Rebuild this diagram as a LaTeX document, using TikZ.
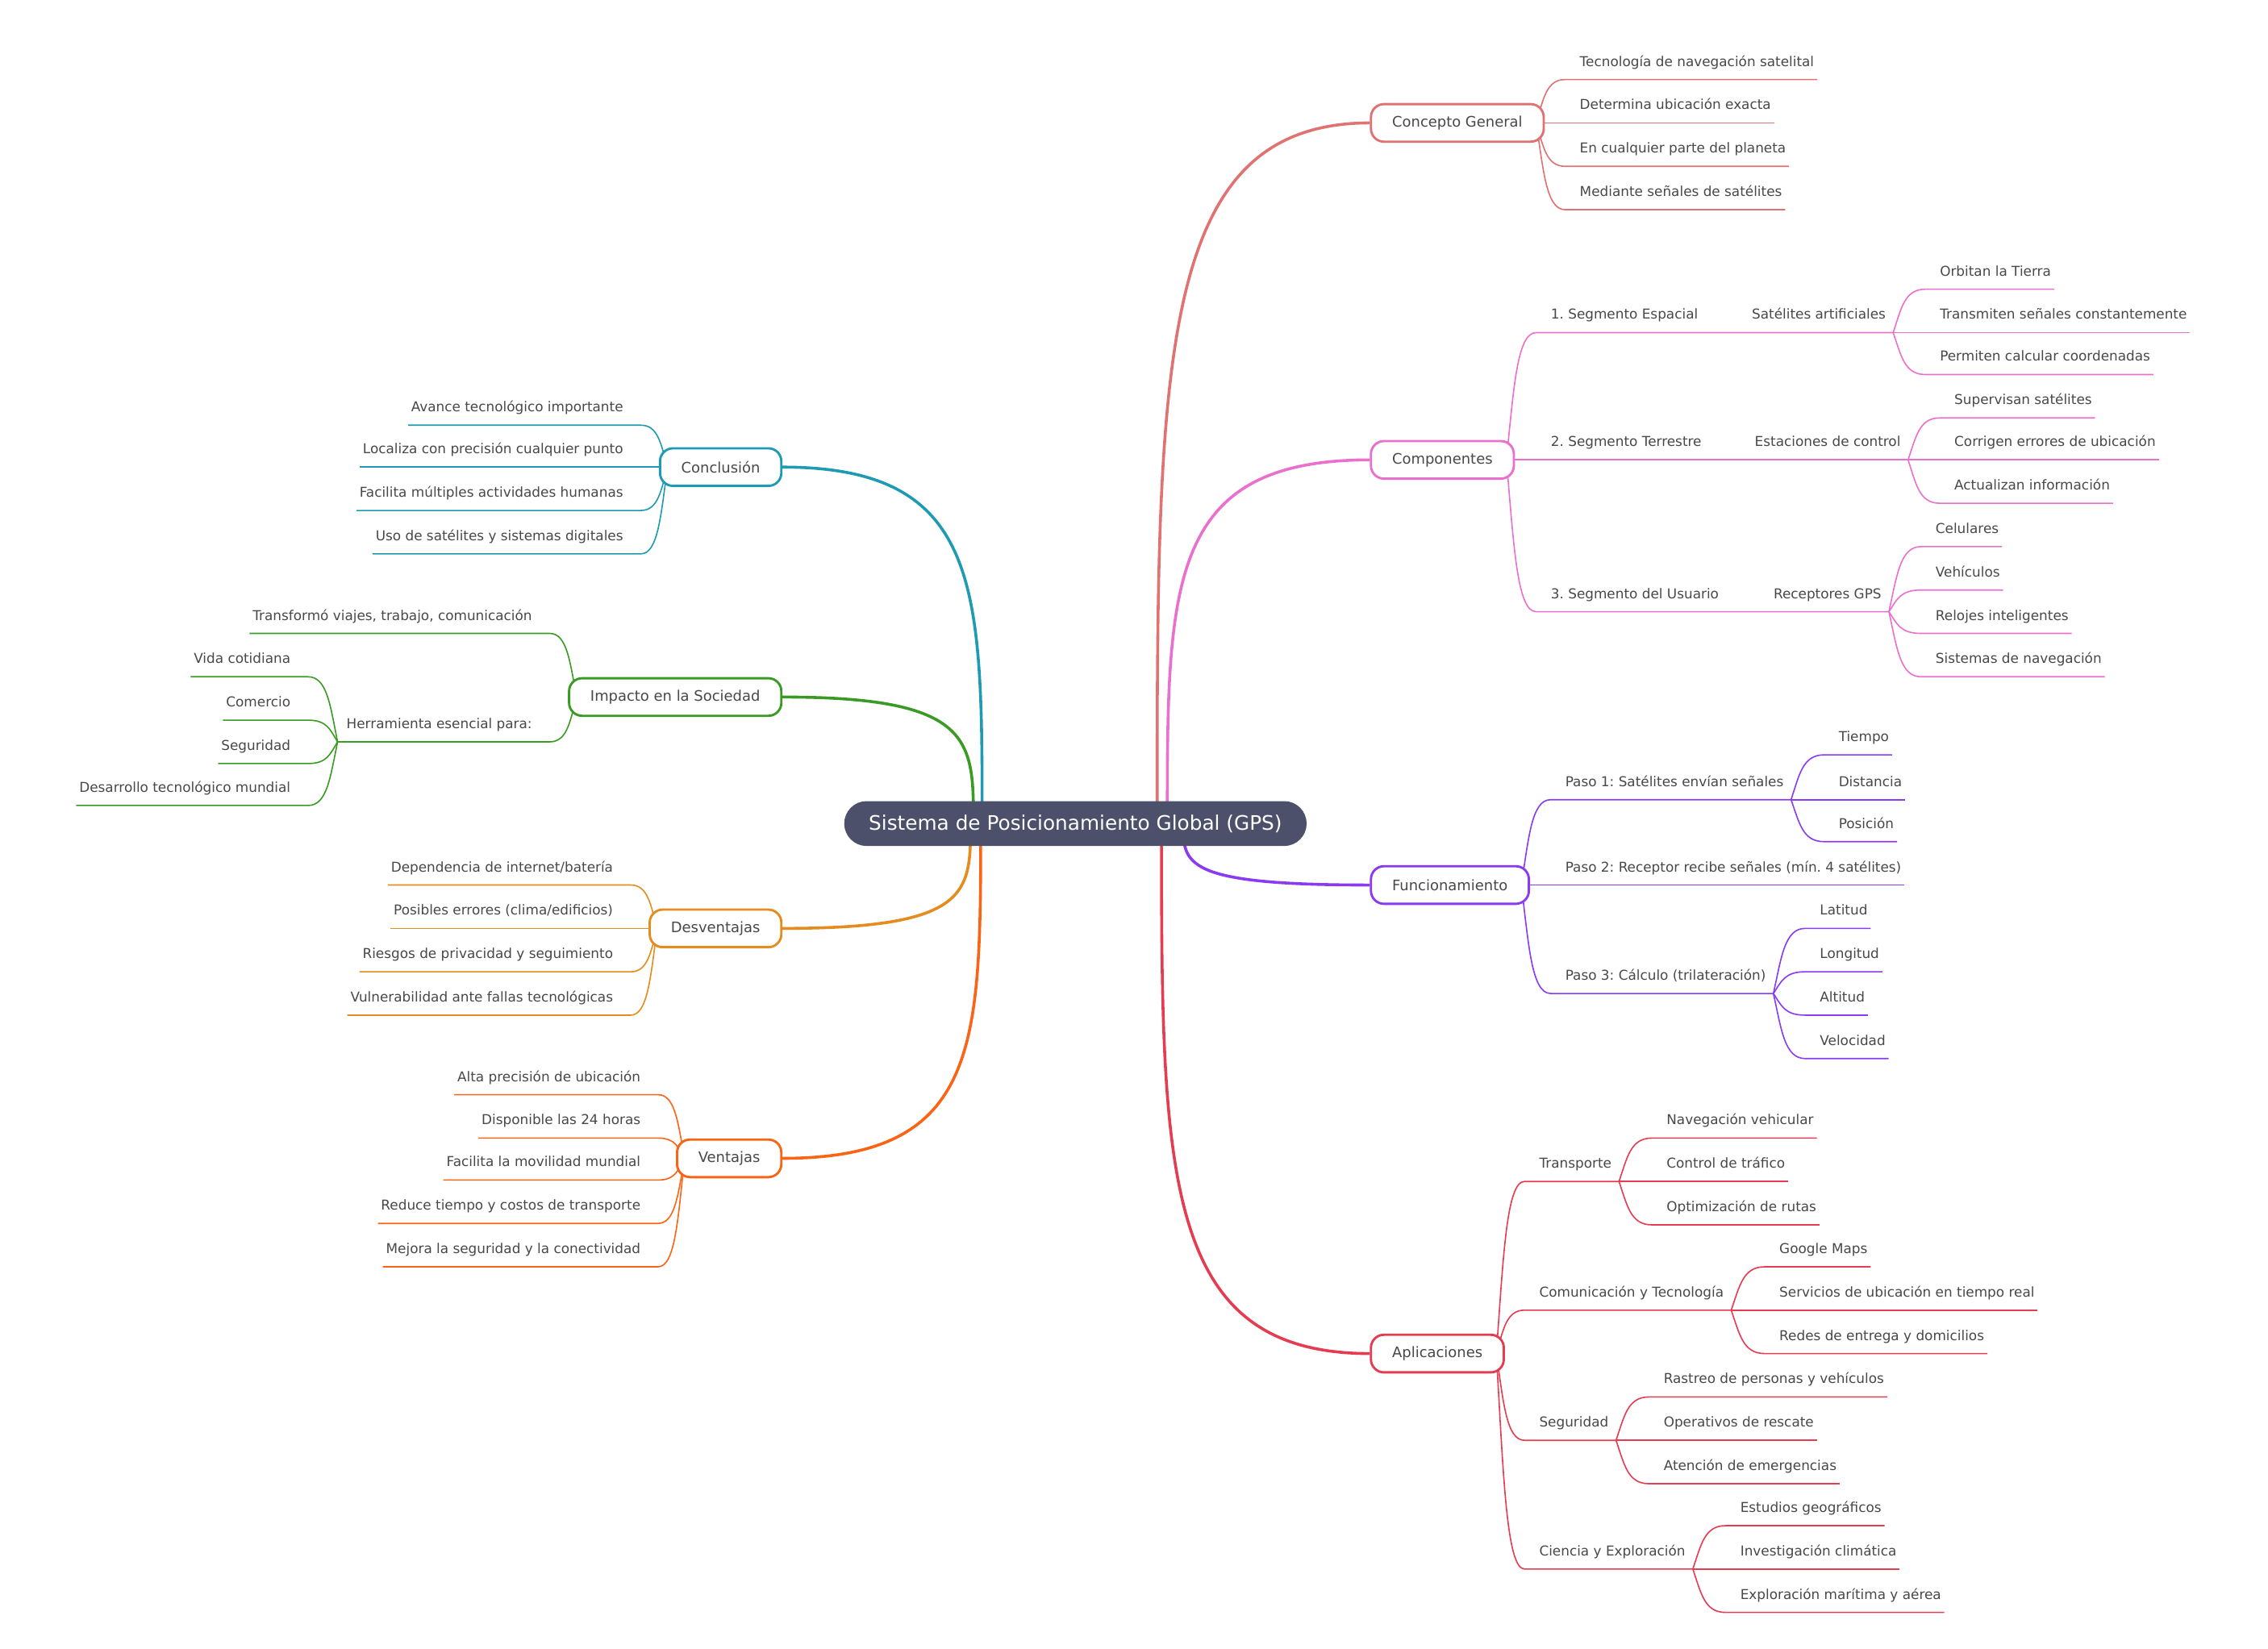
\documentclass[tikz,border=0pt]{standalone}
\usepackage{fontspec}
\setmainfont{DejaVu Sans}
\usetikzlibrary{calc,backgrounds}
\frenchspacing

\definecolor{rootbg}{RGB}{76,80,106}
\definecolor{txt}{RGB}{72,72,72}
\definecolor{cgcol}{RGB}{224,114,114}
\definecolor{cpcol}{RGB}{234,112,206}
\definecolor{fncol}{RGB}{138,58,240}
\definecolor{apcol}{RGB}{230,60,82}
\definecolor{cccol}{RGB}{30,155,178}
\definecolor{imcol}{RGB}{58,155,36}
\definecolor{dvcol}{RGB}{228,140,30}
\definecolor{vtcol}{RGB}{250,100,20}

\begin{document}
\begin{tikzpicture}[x=1pt, y=-1pt,
    central/.style={fill=rootbg, text=white, rounded corners=15.5pt, minimum height=31pt, inner xsep=17pt, font=\fontsize{13.8}{16}\selectfont},
    topic/.style={draw=#1, line width=1.6pt, fill=white, rounded corners=9pt, minimum height=26pt, inner xsep=14.7pt, text=txt, font=\fontsize{10}{12}\selectfont},
    leaf/.style={text=txt, inner xsep=0pt, inner ysep=0pt, text depth=9pt, font=\fontsize{9.4}{11}\selectfont},
    rleaf/.style={leaf, anchor=south west},
    lleaf/.style={leaf, anchor=south east},
    trunk/.style={draw=#1, line width=2pt},
    twig/.style={draw=#1, line width=0.9pt},
    branch/.style={to path={.. controls ($(\tikztostart)!0.66!(\tikztostart |- \tikztotarget)$) and (\tikztostart |- \tikztotarget) .. (\tikztotarget) \tikztonodes}},
    sway/.style={to path={let \p1=(\tikztostart), \p2=(\tikztotarget) in .. controls ({\x1+0.25*(\x2-\x1)},{\y1+0.55*(\y2-\y1)}) and ({\x1+0.35*(\x2-\x1)},\y2) .. (\tikztotarget) \tikztonodes}}
]
    \useasboundingbox (0,0) rectangle (1568,1140);

    % Center
    \node[central] (gps) at (743.5,569.5) {Sistema de Posicionamiento Global (GPS)};
    \coordinate (gps-cg) at ([xshift=56.5pt]gps.center);
    \coordinate (gps-cp) at ([xshift=63.5pt]gps.center);
    \coordinate (gps-fn) at ([xshift=74.5pt]gps.center);
    \coordinate (gps-ap) at ([xshift=59.5pt]gps.center);
    \coordinate (gps-cc) at ([xshift=-64.5pt]gps.center);
    \coordinate (gps-im) at ([xshift=-70.5pt]gps.center);
    \coordinate (gps-dv) at ([xshift=-72.5pt]gps.center);
    \coordinate (gps-vt) at ([xshift=-65.5pt]gps.center);

    % Main topics
    \node[topic=cgcol, anchor=west] (cg) at (947,85) {Concepto General};
    \node[topic=cpcol, anchor=west] (cp) at (947,318) {Componentes};
    \node[topic=fncol, anchor=west] (fn) at (947,612) {Funcionamiento};
    \node[topic=apcol, anchor=west] (ap) at (947,936) {Aplicaciones};
    \node[topic=cccol, anchor=east] (cc) at (541,323) {Conclusión};
    \node[topic=imcol, anchor=east] (im) at (541,482) {Impacto en la Sociedad};
    \node[topic=dvcol, anchor=east] (dv) at (541,642) {Desventajas};
    \node[topic=vtcol, anchor=east] (vt) at (541,801) {Ventajas};
    \coordinate (cg-o) at ([xshift=-6pt]cg.east);
    \coordinate (cp-o) at ([xshift=-6pt]cp.east);
    \coordinate (fn-o) at ([xshift=-6pt]fn.east);
    \coordinate (ap-o) at ([xshift=-6pt]ap.east);
    \coordinate (cc-o) at ([xshift=6pt]cc.west);
    \coordinate (im-o) at ([xshift=6pt]im.west);
    \coordinate (dv-o) at ([xshift=6pt]dv.west);
    \coordinate (vt-o) at ([xshift=6pt]vt.west);

    % Concepto General
    \node[rleaf] (cg1) at (1092,55) {Tecnología de navegación satelital};
    \node[rleaf] (cg2) at (1092,85) {Determina ubicación exacta};
    \node[rleaf] (cg3) at (1092,115) {En cualquier parte del planeta};
    \node[rleaf] (cg4) at (1092,145) {Mediante señales de satélites};

    % Componentes
    \node[rleaf] (cp1) at (1072,230) {1. Segmento Espacial};
    \node[rleaf] (cp1s) at (1211,230) {Satélites artificiales};
    \node[rleaf] (cp1a) at (1341,200) {Orbitan la Tierra};
    \node[rleaf] (cp1b) at (1341,230) {Transmiten señales constantemente};
    \node[rleaf] (cp1c) at (1341,259) {Permiten calcular coordenadas};
    \node[rleaf] (cp2) at (1072,318) {2. Segmento Terrestre};
    \node[rleaf] (cp2s) at (1213,318) {Estaciones de control};
    \node[rleaf] (cp2a) at (1351,289) {Supervisan satélites};
    \node[rleaf] (cp2b) at (1351,318) {Corrigen errores de ubicación};
    \node[rleaf] (cp2c) at (1351,348) {Actualizan información};
    \node[rleaf] (cp3) at (1072,423) {3. Segmento del Usuario};
    \node[rleaf] (cp3s) at (1226,423) {Receptores GPS};
    \node[rleaf] (cp3a) at (1338,378) {Celulares};
    \node[rleaf] (cp3b) at (1338,408) {Vehículos};
    \node[rleaf] (cp3c) at (1338,438) {Relojes inteligentes};
    \node[rleaf] (cp3d) at (1338,468) {Sistemas de navegación};
    \coordinate (cp1j) at ([xshift=5pt]cp1s.south east);
    \coordinate (cp2j) at ([xshift=5pt]cp2s.south east);
    \coordinate (cp3j) at ([xshift=5pt]cp3s.south east);

    % Funcionamiento
    \node[rleaf] (fn1) at (1082,553) {Paso 1: Satélites envían señales};
    \node[rleaf] (fn1a) at (1271,522) {Tiempo};
    \node[rleaf] (fn1b) at (1271,553) {Distancia};
    \node[rleaf] (fn1c) at (1271,582) {Posición};
    \node[rleaf] (fn2) at (1082,612) {Paso 2: Receptor recibe señales (mín. 4 satélites)};
    \node[rleaf] (fn3) at (1082,687) {Paso 3: Cálculo (trilateración)};
    \node[rleaf] (fn3a) at (1258,642) {Latitud};
    \node[rleaf] (fn3b) at (1258,672) {Longitud};
    \node[rleaf] (fn3c) at (1258,702) {Altitud};
    \node[rleaf] (fn3d) at (1258,732) {Velocidad};
    \coordinate (fn1j) at ([xshift=5pt]fn1.south east);
    \coordinate (fn3j) at ([xshift=5pt]fn3.south east);

    % Aplicaciones
    \node[rleaf] (ap1) at (1064,817) {Transporte};
    \node[rleaf] (ap1a) at (1152,787) {Navegación vehicular};
    \node[rleaf] (ap1b) at (1152,817) {Control de tráfico};
    \node[rleaf] (ap1c) at (1152,847) {Optimización de rutas};
    \node[rleaf] (ap2) at (1064,906) {Comunicación y Tecnología};
    \node[rleaf] (ap2a) at (1230,876) {Google Maps};
    \node[rleaf] (ap2b) at (1230,906) {Servicios de ubicación en tiempo real};
    \node[rleaf] (ap2c) at (1230,936) {Redes de entrega y domicilios};
    \node[rleaf] (ap3) at (1064,996) {Seguridad};
    \node[rleaf] (ap3a) at (1150,966) {Rastreo de personas y vehículos};
    \node[rleaf] (ap3b) at (1150,996) {Operativos de rescate};
    \node[rleaf] (ap3c) at (1150,1026) {Atención de emergencias};
    \node[rleaf] (ap4) at (1064,1085) {Ciencia y Exploración};
    \node[rleaf] (ap4a) at (1203,1055) {Estudios geográficos};
    \node[rleaf] (ap4b) at (1203,1085) {Investigación climática};
    \node[rleaf] (ap4c) at (1203,1115) {Exploración marítima y aérea};
    \coordinate (ap1j) at ([xshift=5pt]ap1.south east);
    \coordinate (ap2j) at ([xshift=5pt]ap2.south east);
    \coordinate (ap3j) at ([xshift=5pt]ap3.south east);
    \coordinate (ap4j) at ([xshift=5pt]ap4.south east);

    % Conclusion
    \node[lleaf] (cc1) at (431,294) {Avance tecnológico importante};
    \node[lleaf] (cc2) at (431,323) {Localiza con precisión cualquier punto};
    \node[lleaf] (cc3) at (431,353) {Facilita múltiples actividades humanas};
    \node[lleaf] (cc4) at (431,383) {Uso de satélites y sistemas digitales};

    % Impacto en la Sociedad
    \node[lleaf] (im1) at (368,438) {Transformó viajes, trabajo, comunicación};
    \node[lleaf] (im2) at (368,513) {Herramienta esencial para:};
    \node[lleaf] (im2a) at (201,468) {Vida cotidiana};
    \node[lleaf] (im2b) at (201,498) {Comercio};
    \node[lleaf] (im2c) at (201,528) {Seguridad};
    \node[lleaf] (im2d) at (201,557) {Desarrollo tecnológico mundial};
    \coordinate (im2j) at ([xshift=-6pt]im2.south west);

    % Desventajas
    \node[lleaf] (dv1) at (424,612) {Dependencia de internet/batería};
    \node[lleaf] (dv2) at (424,642) {Posibles errores (clima/edificios)};
    \node[lleaf] (dv3) at (424,672) {Riesgos de privacidad y seguimiento};
    \node[lleaf] (dv4) at (424,702) {Vulnerabilidad ante fallas tecnológicas};

    % Ventajas
    \node[lleaf] (vt1) at (443,757) {Alta precisión de ubicación};
    \node[lleaf] (vt2) at (443,787) {Disponible las 24 horas};
    \node[lleaf] (vt3) at (443,816) {Facilita la movilidad mundial};
    \node[lleaf] (vt4) at (443,846) {Reduce tiempo y costos de transporte};
    \node[lleaf] (vt5) at (443,876) {Mejora la seguridad y la conectividad};

    \begin{scope}[on background layer]
    % Trunks
    \draw[trunk=cgcol] (gps-cg) to[branch] (cg.west);
    \draw[trunk=cpcol] (gps-cp) to[branch] (cp.west);
    \draw[trunk=fncol] (gps-fn) to[branch] (fn.west);
    \draw[trunk=apcol] (gps-ap) to[branch] (ap.west);
    \draw[trunk=cccol] (gps-cc) to[branch] (cc.east);
    \draw[trunk=imcol] (gps-im) to[branch] (im.east);
    \draw[trunk=dvcol] (gps-dv) to[branch] (dv.east);
    \draw[trunk=vtcol] (gps-vt) to[branch] (vt.east);

    % Concepto General
    \draw[twig=cgcol] (cg-o) to[sway] ([xshift=-10pt]cg1.south west) -- ([xshift=2pt]cg1.south east);
    \draw[twig=cgcol] (cg-o) to[sway] ([xshift=-10pt]cg2.south west) -- ([xshift=2pt]cg2.south east);
    \draw[twig=cgcol] (cg-o) to[sway] ([xshift=-10pt]cg3.south west) -- ([xshift=2pt]cg3.south east);
    \draw[twig=cgcol] (cg-o) to[sway] ([xshift=-10pt]cg4.south west) -- ([xshift=2pt]cg4.south east);

    % Componentes
    \draw[twig=cpcol] (cp-o) to[sway] ([xshift=-10pt]cp1.south west) -- (cp1j);
    \draw[twig=cpcol] (cp1j) to[sway] ([xshift=-10pt]cp1a.south west) -- ([xshift=2pt]cp1a.south east);
    \draw[twig=cpcol] (cp1j) to[sway] ([xshift=-10pt]cp1b.south west) -- ([xshift=2pt]cp1b.south east);
    \draw[twig=cpcol] (cp1j) to[sway] ([xshift=-10pt]cp1c.south west) -- ([xshift=2pt]cp1c.south east);
    \draw[twig=cpcol] (cp-o) to[sway] ([xshift=-10pt]cp2.south west) -- (cp2j);
    \draw[twig=cpcol] (cp2j) to[sway] ([xshift=-10pt]cp2a.south west) -- ([xshift=2pt]cp2a.south east);
    \draw[twig=cpcol] (cp2j) to[sway] ([xshift=-10pt]cp2b.south west) -- ([xshift=2pt]cp2b.south east);
    \draw[twig=cpcol] (cp2j) to[sway] ([xshift=-10pt]cp2c.south west) -- ([xshift=2pt]cp2c.south east);
    \draw[twig=cpcol] (cp-o) to[sway] ([xshift=-10pt]cp3.south west) -- (cp3j);
    \draw[twig=cpcol] (cp3j) to[sway] ([xshift=-10pt]cp3a.south west) -- ([xshift=2pt]cp3a.south east);
    \draw[twig=cpcol] (cp3j) to[sway] ([xshift=-10pt]cp3b.south west) -- ([xshift=2pt]cp3b.south east);
    \draw[twig=cpcol] (cp3j) to[sway] ([xshift=-10pt]cp3c.south west) -- ([xshift=2pt]cp3c.south east);
    \draw[twig=cpcol] (cp3j) to[sway] ([xshift=-10pt]cp3d.south west) -- ([xshift=2pt]cp3d.south east);

    % Funcionamiento
    \draw[twig=fncol] (fn-o) to[sway] ([xshift=-10pt]fn1.south west) -- (fn1j);
    \draw[twig=fncol] (fn1j) to[sway] ([xshift=-10pt]fn1a.south west) -- ([xshift=2pt]fn1a.south east);
    \draw[twig=fncol] (fn1j) to[sway] ([xshift=-10pt]fn1b.south west) -- ([xshift=2pt]fn1b.south east);
    \draw[twig=fncol] (fn1j) to[sway] ([xshift=-10pt]fn1c.south west) -- ([xshift=2pt]fn1c.south east);
    \draw[twig=fncol] (fn-o) to[sway] ([xshift=-10pt]fn2.south west) -- ([xshift=2pt]fn2.south east);
    \draw[twig=fncol] (fn-o) to[sway] ([xshift=-10pt]fn3.south west) -- (fn3j);
    \draw[twig=fncol] (fn3j) to[sway] ([xshift=-10pt]fn3a.south west) -- ([xshift=2pt]fn3a.south east);
    \draw[twig=fncol] (fn3j) to[sway] ([xshift=-10pt]fn3b.south west) -- ([xshift=2pt]fn3b.south east);
    \draw[twig=fncol] (fn3j) to[sway] ([xshift=-10pt]fn3c.south west) -- ([xshift=2pt]fn3c.south east);
    \draw[twig=fncol] (fn3j) to[sway] ([xshift=-10pt]fn3d.south west) -- ([xshift=2pt]fn3d.south east);

    % Aplicaciones
    \draw[twig=apcol] (ap-o) to[sway] ([xshift=-10pt]ap1.south west) -- (ap1j);
    \draw[twig=apcol] (ap1j) to[sway] ([xshift=-10pt]ap1a.south west) -- ([xshift=2pt]ap1a.south east);
    \draw[twig=apcol] (ap1j) to[sway] ([xshift=-10pt]ap1b.south west) -- ([xshift=2pt]ap1b.south east);
    \draw[twig=apcol] (ap1j) to[sway] ([xshift=-10pt]ap1c.south west) -- ([xshift=2pt]ap1c.south east);
    \draw[twig=apcol] (ap-o) to[sway] ([xshift=-10pt]ap2.south west) -- (ap2j);
    \draw[twig=apcol] (ap2j) to[sway] ([xshift=-10pt]ap2a.south west) -- ([xshift=2pt]ap2a.south east);
    \draw[twig=apcol] (ap2j) to[sway] ([xshift=-10pt]ap2b.south west) -- ([xshift=2pt]ap2b.south east);
    \draw[twig=apcol] (ap2j) to[sway] ([xshift=-10pt]ap2c.south west) -- ([xshift=2pt]ap2c.south east);
    \draw[twig=apcol] (ap-o) to[sway] ([xshift=-10pt]ap3.south west) -- (ap3j);
    \draw[twig=apcol] (ap3j) to[sway] ([xshift=-10pt]ap3a.south west) -- ([xshift=2pt]ap3a.south east);
    \draw[twig=apcol] (ap3j) to[sway] ([xshift=-10pt]ap3b.south west) -- ([xshift=2pt]ap3b.south east);
    \draw[twig=apcol] (ap3j) to[sway] ([xshift=-10pt]ap3c.south west) -- ([xshift=2pt]ap3c.south east);
    \draw[twig=apcol] (ap-o) to[sway] ([xshift=-10pt]ap4.south west) -- (ap4j);
    \draw[twig=apcol] (ap4j) to[sway] ([xshift=-10pt]ap4a.south west) -- ([xshift=2pt]ap4a.south east);
    \draw[twig=apcol] (ap4j) to[sway] ([xshift=-10pt]ap4b.south west) -- ([xshift=2pt]ap4b.south east);
    \draw[twig=apcol] (ap4j) to[sway] ([xshift=-10pt]ap4c.south west) -- ([xshift=2pt]ap4c.south east);

    % Conclusion
    \draw[twig=cccol] (cc-o) to[sway] ([xshift=12pt]cc1.south east) -- ([xshift=-2pt]cc1.south west);
    \draw[twig=cccol] (cc-o) to[sway] ([xshift=12pt]cc2.south east) -- ([xshift=-2pt]cc2.south west);
    \draw[twig=cccol] (cc-o) to[sway] ([xshift=12pt]cc3.south east) -- ([xshift=-2pt]cc3.south west);
    \draw[twig=cccol] (cc-o) to[sway] ([xshift=12pt]cc4.south east) -- ([xshift=-2pt]cc4.south west);

    % Impacto en la Sociedad
    \draw[twig=imcol] (im-o) to[sway] ([xshift=12pt]im1.south east) -- ([xshift=-2pt]im1.south west);
    \draw[twig=imcol] (im-o) to[sway] ([xshift=12pt]im2.south east) -- (im2j);
    \draw[twig=imcol] (im2j) to[sway] ([xshift=12pt]im2a.south east) -- ([xshift=-2pt]im2a.south west);
    \draw[twig=imcol] (im2j) to[sway] ([xshift=12pt]im2b.south east) -- ([xshift=-2pt]im2b.south west);
    \draw[twig=imcol] (im2j) to[sway] ([xshift=12pt]im2c.south east) -- ([xshift=-2pt]im2c.south west);
    \draw[twig=imcol] (im2j) to[sway] ([xshift=12pt]im2d.south east) -- ([xshift=-2pt]im2d.south west);

    % Desventajas
    \draw[twig=dvcol] (dv-o) to[sway] ([xshift=12pt]dv1.south east) -- ([xshift=-2pt]dv1.south west);
    \draw[twig=dvcol] (dv-o) to[sway] ([xshift=12pt]dv2.south east) -- ([xshift=-2pt]dv2.south west);
    \draw[twig=dvcol] (dv-o) to[sway] ([xshift=12pt]dv3.south east) -- ([xshift=-2pt]dv3.south west);
    \draw[twig=dvcol] (dv-o) to[sway] ([xshift=12pt]dv4.south east) -- ([xshift=-2pt]dv4.south west);

    % Ventajas
    \draw[twig=vtcol] (vt-o) to[sway] ([xshift=12pt]vt1.south east) -- ([xshift=-2pt]vt1.south west);
    \draw[twig=vtcol] (vt-o) to[sway] ([xshift=12pt]vt2.south east) -- ([xshift=-2pt]vt2.south west);
    \draw[twig=vtcol] (vt-o) to[sway] ([xshift=12pt]vt3.south east) -- ([xshift=-2pt]vt3.south west);
    \draw[twig=vtcol] (vt-o) to[sway] ([xshift=12pt]vt4.south east) -- ([xshift=-2pt]vt4.south west);
    \draw[twig=vtcol] (vt-o) to[sway] ([xshift=12pt]vt5.south east) -- ([xshift=-2pt]vt5.south west);
    \end{scope}
\end{tikzpicture}
\end{document}
